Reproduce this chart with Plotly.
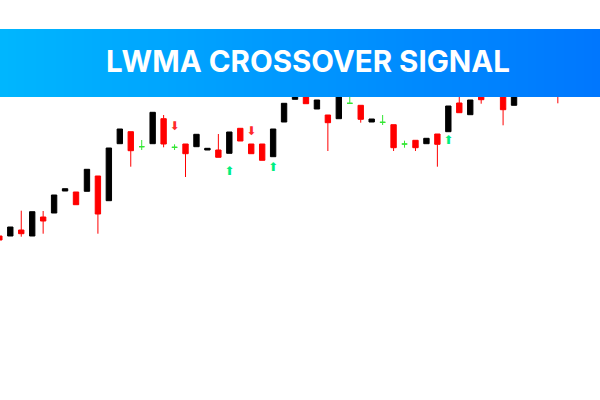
import plotly.graph_objects as go

# --- price data (bar index, open, high, low, close) ---
bull_idx   = [1, 3, 5, 6, 8, 10, 11, 14, 18, 19, 21, 25, 26, 27, 29, 31, 34, 39, 41, 43, 47]
bull_open  = [1.08640, 1.08640, 1.08870, 1.09090, 1.09087, 1.08993, 1.09563, 1.09563, 1.09533, 1.09500, 1.09467,
              1.09433, 1.09780, 1.10007, 1.09910, 1.09813, 1.09780, 1.09563, 1.09683, 1.09853, 1.09947]
bull_close = [1.08730, 1.08883, 1.09050, 1.09113, 1.09307, 1.09520, 1.09710, 1.09877, 1.09657, 1.09517, 1.09680,
              1.09710, 1.09967, 1.10100, 1.10000, 1.10060, 1.09810, 1.09617, 1.09940, 1.10000, 1.10100]
bull_high  = bull_close
bull_low   = bull_open

bear_idx   = [0, 2, 4, 7, 9, 12, 15, 17, 20, 22, 23, 24, 28, 30, 33, 36, 38, 40, 42, 44, 46, 51]
bear_open  = [1.08640, 1.08700, 1.08830, 1.09080, 1.09240, 1.09683, 1.09813, 1.09560, 1.09500, 1.09717, 1.09560,
              1.09560, 1.10080, 1.09850, 1.09947, 1.09753, 1.09597, 1.09660, 1.09970, 1.10070, 1.10080, 1.10120]
bear_close = [1.08600, 1.08663, 1.08790, 1.08953, 1.08860, 1.09493, 1.09560, 1.09463, 1.09427, 1.09590, 1.09463,
              1.09397, 1.09963, 1.09773, 1.09807, 1.09523, 1.09523, 1.09557, 1.09873, 1.10003, 1.09903, 1.10060]
bear_high  = [1.08640, 1.08893, 1.08890, 1.09080, 1.09240, 1.09683, 1.09850, 1.09560, 1.09660, 1.09717, 1.09560,
              1.09560, 1.10080, 1.09850, 1.09947, 1.09753, 1.09597, 1.09660, 1.10080, 1.10070, 1.10080, 1.10120]
bear_low   = [1.08600, 1.08633, 1.08663, 1.08953, 1.08663, 1.09333, 1.09527, 1.09230, 1.09427, 1.09590, 1.09463,
              1.09397, 1.09963, 1.09490, 1.09773, 1.09490, 1.09490, 1.09333, 1.09873, 1.09963, 1.09747, 1.09967]

doji_idx   = [13, 16, 32, 35, 37]
doji_price = [1.09533, 1.09527, 1.09967, 1.09777, 1.09560]
doji_high  = [1.09600, 1.09557, 1.10070, 1.09850, 1.09593]
doji_low   = [1.09500, 1.09500, 1.09967, 1.09750, 1.09523]

# --- crossover signals ---
sell_idx   = [16, 23]
sell_price = [1.09730, 1.09680]
buy_idx    = [21, 25, 41]
buy_price  = [1.09280, 1.09320, 1.09587]

title_text = "LWMA CROSSOVER SIGNAL"

fig = go.Figure()

fig.add_trace(go.Candlestick(
    x=bull_idx, open=bull_open, high=bull_high, low=bull_low, close=bull_close,
    increasing=dict(line=dict(color="#000000", width=1), fillcolor="#000000"),
    decreasing=dict(line=dict(color="#000000", width=1), fillcolor="#000000"),
    showlegend=False, hoverinfo="skip",
))
fig.add_trace(go.Candlestick(
    x=bear_idx, open=bear_open, high=bear_high, low=bear_low, close=bear_close,
    increasing=dict(line=dict(color="#ff0000", width=1), fillcolor="#ff0000"),
    decreasing=dict(line=dict(color="#ff0000", width=1), fillcolor="#ff0000"),
    showlegend=False, hoverinfo="skip",
))
fig.add_trace(go.Candlestick(
    x=doji_idx, open=doji_price, high=doji_high, low=doji_low, close=doji_price,
    increasing=dict(line=dict(color="#33e633", width=1), fillcolor="#33e633"),
    decreasing=dict(line=dict(color="#33e633", width=1), fillcolor="#33e633"),
    showlegend=False, hoverinfo="skip",
))

fig.add_trace(go.Scatter(
    x=sell_idx, y=sell_price, mode="text", text=["⬇"] * len(sell_idx),
    textfont=dict(family="DejaVu Sans", size=12, color="#ff2a2a"),
    textposition="middle center", showlegend=False, hoverinfo="skip",
))
fig.add_trace(go.Scatter(
    x=buy_idx, y=buy_price, mode="text", text=["⬆"] * len(buy_idx),
    textfont=dict(family="DejaVu Sans", size=12, color="#00ee80"),
    textposition="middle center", showlegend=False, hoverinfo="skip",
))

# gradient header band drawn as thin vertical strips
shapes = []
n_strips = 150
c0 = (0, 182, 254)
c1 = (0, 119, 254)
band_y0 = 1 - 97 / 400
band_y1 = 1 - 29 / 400
for k in range(n_strips):
    t = k / (n_strips - 1)
    r = round(c0[0] + (c1[0] - c0[0]) * t)
    g = round(c0[1] + (c1[1] - c0[1]) * t)
    b = round(c0[2] + (c1[2] - c0[2]) * t)
    x0 = k / n_strips
    x1 = min(1.0, (k + 1.5) / n_strips)
    shapes.append(dict(
        type="rect", xref="paper", yref="paper", x0=x0, x1=x1, y0=band_y0, y1=band_y1,
        fillcolor=f"rgb({r},{g},{b})", line=dict(width=0), layer="above",
    ))

fig.update_layout(
    width=600, height=400,
    margin=dict(l=0, r=0, t=0, b=0),
    paper_bgcolor="white", plot_bgcolor="white",
    xaxis=dict(range=[0.0594, 54.85], visible=False, rangeslider=dict(visible=False), fixedrange=True),
    yaxis=dict(range=[1.0700, 1.1100], visible=False, fixedrange=True),
    shapes=shapes,
    annotations=[dict(
        text=title_text, xref="paper", yref="paper", x=308 / 600, y=1 - 61 / 400,
        xanchor="center", yanchor="middle", showarrow=False,
        font=dict(family="Inter", size=29.5, color="white", weight="bold"),
    )],
    showlegend=False,
)

fig.write_html("out.html")
